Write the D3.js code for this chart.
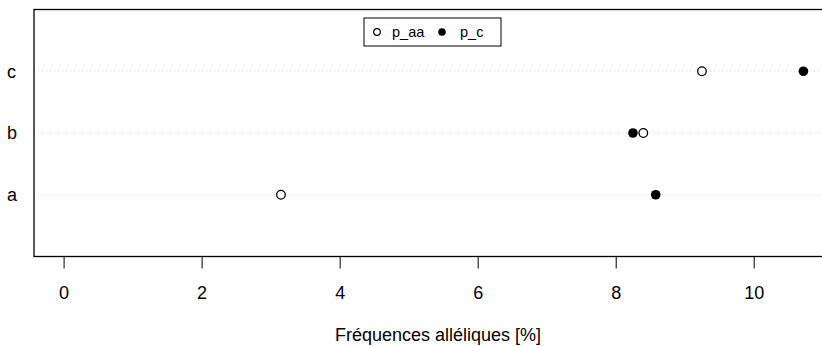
<!DOCTYPE html>
<meta charset="utf-8">
<style>
body { margin: 0; background: #fff; }
svg { font-family: "Liberation Sans", Arial, sans-serif; }
.grid { stroke: #d3d3d3; stroke-dasharray: 1 3; }
</style>
<div id="chart"></div>
<script src="https://cdn.jsdelivr.net/npm/d3@7"></script>
<script>
var categories = ["a", "b", "c"];
var p_aa = [3.15, 8.40, 9.25];
var p_c = [8.58, 8.25, 10.72];
var xTicks = [0, 2, 4, 6, 8, 10];
var legendLabels = ["p_aa", "p_c"];

var width = 822, height = 346;

var svg = d3.select("#chart").append("svg")
    .attr("width", width)
    .attr("height", height);

// R style: xlim = c(0, max), extended by 4% each side
var xmax = d3.max(p_aa.concat(p_c));
var pad = xmax * 0.04;
var x = d3.scaleLinear()
    .domain([-pad, xmax + pad])
    .range([34, 833]);

// ylim = c(0, n + 1)
var y = d3.scaleLinear()
    .domain([0, categories.length + 1])
    .range([256.5, 9.5]);

// dotted guide lines
svg.append("g")
  .selectAll("line")
    .data(categories)
  .enter().append("line")
    .attr("class", "grid")
    .attr("x1", 34)
    .attr("x2", width)
    .attr("y1", function(d, i) { return y(i + 1); })
    .attr("y2", function(d, i) { return y(i + 1); });

// row labels
svg.append("g")
  .selectAll("text")
    .data(categories)
  .enter().append("text")
    .attr("x", 7)
    .attr("y", function(d, i) { return y(i + 1); })
    .attr("dy", "0.35em")
    .style("font-size", "18px")
    .text(function(d) { return d; });

// open points (p_aa)
svg.append("g")
  .selectAll("circle")
    .data(p_aa)
  .enter().append("circle")
    .attr("cx", function(d) { return x(d); })
    .attr("cy", function(d, i) { return y(i + 1); })
    .attr("r", 4.3)
    .attr("fill", "#fff")
    .attr("stroke", "#000")
    .attr("stroke-width", 1.3);

// filled points (p_c)
svg.append("g")
  .selectAll("circle")
    .data(p_c)
  .enter().append("circle")
    .attr("cx", function(d) { return x(d); })
    .attr("cy", function(d, i) { return y(i + 1); })
    .attr("r", 4.8)
    .attr("fill", "#000");

// frame
svg.append("rect")
    .attr("x", 34)
    .attr("y", 9.5)
    .attr("width", 833 - 34)
    .attr("height", 256.5 - 9.5)
    .attr("fill", "none")
    .attr("stroke", "#000")
    .attr("stroke-width", 1.3);

// x axis
var xAxis = d3.axisBottom(x)
    .tickValues(xTicks)
    .tickSize(12)
    .tickPadding(18)
    .tickFormat(d3.format("d"));

var ax = svg.append("g")
    .attr("transform", "translate(0,256.5)")
    .call(xAxis);
ax.select(".domain").remove();
ax.selectAll("text")
    .style("font-size", "18px")
    .style("font-family", "Liberation Sans, Arial, sans-serif")
    .attr("fill", "#000");
ax.selectAll("line").attr("stroke", "#000");

svg.append("text")
    .attr("x", 438)
    .attr("y", 341)
    .attr("text-anchor", "middle")
    .style("font-size", "18px")
    .text("Fréquences alléliques [%]");

// legend
var lg = svg.append("g");
lg.append("rect")
    .attr("x", 364)
    .attr("y", 18)
    .attr("width", 137)
    .attr("height", 28)
    .attr("fill", "#fff")
    .attr("stroke", "#000");

lg.append("circle")
    .attr("cx", 377).attr("cy", 32).attr("r", 3.3)
    .attr("fill", "#fff").attr("stroke", "#000").attr("stroke-width", 1.2);
lg.append("circle")
    .attr("cx", 442).attr("cy", 32).attr("r", 3.8)
    .attr("fill", "#000");

lg.selectAll("text")
    .data(legendLabels)
  .enter().append("text")
    .attr("x", function(d, i) { return i == 0 ? 392 : 460; })
    .attr("y", 32)
    .attr("dy", "0.35em")
    .style("font-size", "14.5px")
    .text(function(d) { return d; });
</script>
